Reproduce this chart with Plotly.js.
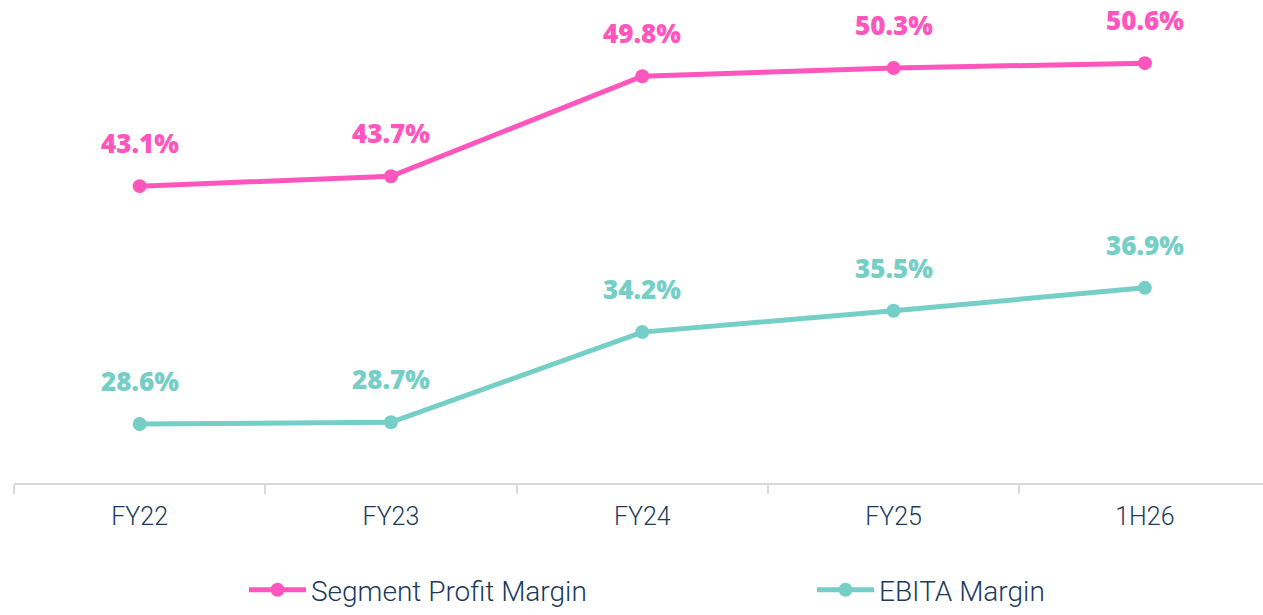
<!DOCTYPE html>
<html><head><meta charset="utf-8">
<script src="https://cdn.plot.ly/plotly-3.0.1.min.js"></script>
<style>html,body{margin:0;padding:0;background:#fff}#chart{width:1263px;height:615px}</style>
</head><body><div id="chart"></div>
<script>
const categories = ["FY22", "FY23", "FY24", "FY25", "1H26"];
const segmentProfitMargin = [43.1, 43.7, 49.8, 50.3, 50.6];
const ebitaMargin = [28.6, 28.7, 34.2, 35.5, 36.9];
const seriesNames = ["Segment Profit Margin", "EBITA Margin"];
const pink = "#ff56bd", teal = "#76cfc6";

const traces = [
  {x: categories, y: segmentProfitMargin, name: seriesNames[0], type: "scatter", mode: "lines+markers",
   line: {color: pink, width: 5}, marker: {color: pink, size: 14}, legend: "legend"},
  {x: categories, y: ebitaMargin, name: seriesNames[1], type: "scatter", mode: "lines+markers",
   line: {color: teal, width: 5}, marker: {color: teal, size: 14}, legend: "legend2"}
];
const annotations = [];
[[segmentProfitMargin, pink], [ebitaMargin, teal]].forEach(([vals, c]) => {
  vals.forEach((v, i) => annotations.push({
    x: categories[i], y: v, text: v.toFixed(1) + "%", showarrow: false, yshift: 43,
    font: {family: "Open Sans", size: 26, color: c, weight: 800}
  }));
});
const legendFont = {family: "Roboto", size: 28, color: "#1b3a5c", weight: 300};
const legendBase = {orientation: "h", xanchor: "left", y: -0.2733, yanchor: "bottom",
  itemwidth: 57, font: legendFont, bgcolor: "rgba(0,0,0,0)"};
const layout = {
  width: 1263, height: 615,
  margin: {l: 14, r: 0, t: 0, b: 132},
  paper_bgcolor: "#fff", plot_bgcolor: "#fff",
  showlegend: true,
  legend: Object.assign({}, legendBase, {x: (244 - 14) / 1249}),
  legend2: Object.assign({}, legendBase, {x: (812 - 14) / 1249}),
  xaxis: {type: "category", range: [-0.5, 4.47], showgrid: false, zeroline: false,
    showline: true, linecolor: "#d9d9d9", linewidth: 2, ticks: "outside", tickson: "boundaries",
    ticklen: 9, tickcolor: "#d9d9d9", tickwidth: 2, ticklabelstandoff: 10,
    tickfont: {family: "Roboto", size: 25, color: "#1b3a5c", weight: 300}},
  yaxis: {range: [25, 54.45], visible: false, showgrid: false, zeroline: false},
  annotations: annotations
};
Plotly.newPlot("chart", traces, layout, {displayModeBar: false});
</script></body></html>
